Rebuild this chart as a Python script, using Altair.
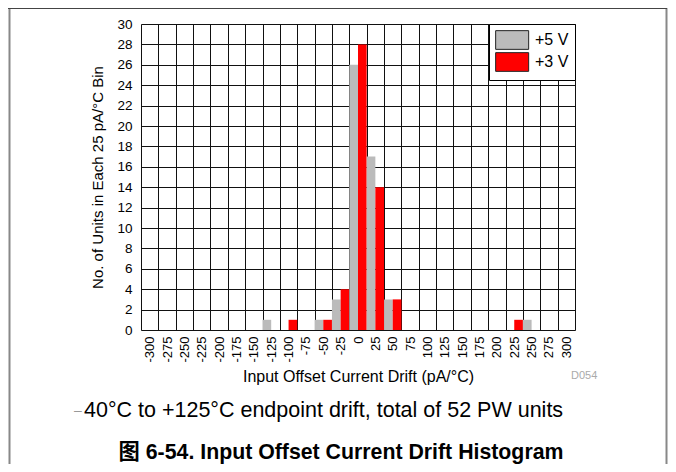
import altair as alt
import pandas as pd

bins = [-300, -275, -250, -225, -200, -175, -150, -125, -100, -75, -50, -25,
        0, 25, 50, 75, 100, 125, 150, 175, 200, 225, 250, 275, 300]
plus5 = [0, 0, 0, 0, 0, 0, 0, 1, 0, 0, 1, 3, 26, 17, 3, 0, 0, 0, 0, 0, 0, 0, 1, 0, 0]
plus3 = [0, 0, 0, 0, 0, 0, 0, 0, 1, 0, 1, 4, 28, 14, 3, 0, 0, 0, 0, 0, 0, 1, 0, 0, 0]
series = ["+5 V", "+3 V"]
colors = ["#bbbbbb", "#ff0000"]
y_ticks = list(range(0, 31, 2))

rows = []
for b, a, c in zip(bins, plus5, plus3):
    rows.append({"bin": str(b), "series": series[0], "count": a})
    rows.append({"bin": str(b), "series": series[1], "count": c})
df = pd.DataFrame(rows)

FONT = "Liberation Sans, Arial, Noto Sans CJK SC"
W, H = 434, 306

bars = alt.Chart(df).mark_bar(stroke=None).encode(
    x=alt.X("bin:N", sort=[str(b) for b in bins],
            scale=alt.Scale(domain=[str(b) for b in bins], paddingInner=0, paddingOuter=0),
            axis=alt.Axis(title="Input Offset Current Drift (pA/°C)", labelAngle=270,
                          tickBand="extent", grid=True, gridColor="#111", gridWidth=1,
                          gridOpacity=1, ticks=False, domain=False, labelPadding=6,
                          labelFontSize=13, labelFont=FONT, labelColor="black",
                          titleFont=FONT, titleFontSize=16, titleFontWeight="normal",
                          titleColor="black", titlePadding=6)),
    xOffset=alt.XOffset("series:N", sort=series,
                        scale=alt.Scale(domain=series, paddingInner=0, paddingOuter=0)),
    y=alt.Y("count:Q", scale=alt.Scale(domain=[0, 30], nice=False),
            axis=alt.Axis(title="No. of Units in Each 25 pA/°C Bin", values=y_ticks,
                          grid=True, gridColor="#111", gridWidth=1, gridOpacity=1,
                          ticks=False, domain=False, labelPadding=9, labelFontSize=13.5,
                          labelFont=FONT, labelColor="black", titleFont=FONT,
                          titleFontSize=15, titleFontWeight="normal", titleColor="black",
                          titlePadding=11)),
    color=alt.Color("series:N", sort=series,
                    scale=alt.Scale(domain=series, range=colors),
                    legend=alt.Legend(orient="top-right", offset=0, title=None,
                                      strokeColor="black", fillColor="white", padding=6,
                                      symbolType="M-1,-1H2.53V1H-1Z", symbolSize=350,
                                      symbolStrokeColor="#222", symbolStrokeWidth=1,
                                      symbolOpacity=1, rowPadding=-4, labelOffset=20,
                                      labelFontSize=16, labelFont=FONT, labelColor="black")),
)

def txt(s, x, y, size, color="black", weight="normal", align="left"):
    return alt.Chart(pd.DataFrame({"t": [s]})).mark_text(
        fontSize=size, font=FONT, color=color, fontWeight=weight, align=align,
        baseline="middle").encode(text="t:N", x=alt.value(x), y=alt.value(y))

d054 = txt("D054", 430, 352, 11, color="#aaaaaa")
dash = txt("–", -67, 387, 14, color="#999999")
caption = txt("40°C to +125°C endpoint drift, total of 52 PW units", -57, 387, 21.5)
title = txt("图 6-54. Input Offset Current Drift Histogram", 200, 429, 21.3,
            weight="bold", align="center")

frame_l = alt.Chart(pd.DataFrame({"a": [0]})).mark_rule(color="#888888", strokeWidth=2).encode(
    x=alt.value(-131.5), y=alt.value(-16), y2=alt.value(440))
frame_r = alt.Chart(pd.DataFrame({"a": [0]})).mark_rule(color="#888888", strokeWidth=2).encode(
    x=alt.value(525.5), y=alt.value(-16), y2=alt.value(440))
frame_t = alt.Chart(pd.DataFrame({"a": [0]})).mark_rule(color="#444444", strokeWidth=1).encode(
    x=alt.value(-133), x2=alt.value(526), y=alt.value(-15.5))

chart = alt.layer(bars, d054, dash, caption, title, frame_l, frame_r, frame_t).properties(
    width=W, height=H,
    autosize=alt.AutoSizeParams(type="none"),
    padding={"left": 133, "top": 16, "right": 93, "bottom": 134},
).configure_view(stroke="black", strokeWidth=2).configure(background="white")

chart.save("out.html", embed_options={"renderer": "svg", "actions": False})
